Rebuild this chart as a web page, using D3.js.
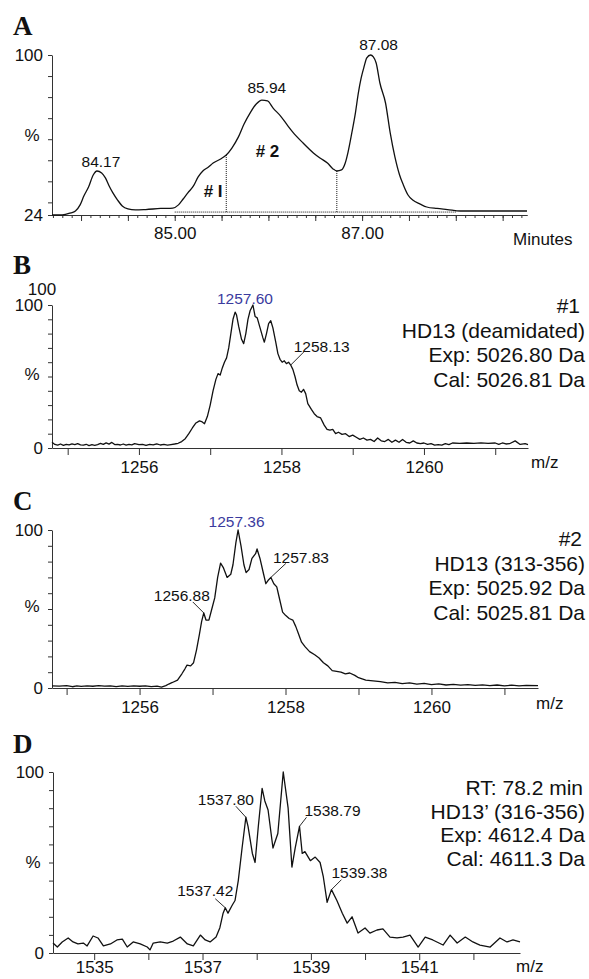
<!DOCTYPE html>
<html>
  <head>
    <title>HD13 chromatogram and mass spectra</title>
    <style>
      body { margin: 0; background: #fff; }
      #svg { display: block; font-family: 'Liberation Sans', Arial, sans-serif; }
    </style>
  </head>
  <body>
    <svg id="svg" width="589" height="979"></svg>
    <script src="https://cdn.jsdelivr.net/npm/d3@7"></script>
    <script>
      // ---- data ----
      // A: chromatogram, [minutes, %]
      const chromA = [[83.69,24.0],[83.80,24.0],[83.89,25.0],[83.94,25.9],[83.99,28.8],[84.03,33.0],[84.08,37.3],[84.13,43.0],[84.17,44.9],[84.22,44.0],[84.26,41.6],[84.30,37.8],[84.34,34.5],[84.39,31.1],[84.44,28.3],[84.50,26.9],[84.58,26.4],[84.69,26.6],[84.85,27.1],[84.98,27.3],[85.04,28.8],[85.09,31.6],[85.14,34.5],[85.20,37.8],[85.25,42.1],[85.30,44.9],[85.36,46.8],[85.41,48.7],[85.49,50.6],[85.55,52.5],[85.61,55.8],[85.68,61.1],[85.74,67.2],[85.81,72.9],[85.87,76.7],[85.93,78.6],[85.99,78.2],[86.05,74.8],[86.13,71.0],[86.20,66.8],[86.26,63.4],[86.37,58.2],[86.48,53.5],[86.55,51.1],[86.63,48.7],[86.69,45.9],[86.73,44.9],[86.78,45.4],[86.82,48.7],[86.85,53.9],[86.89,63.0],[86.93,72.9],[86.96,82.0],[86.99,89.1],[87.02,94.3],[87.05,98.6],[87.09,100],[87.12,99.1],[87.15,96.2],[87.19,86.7],[87.25,77.2],[87.30,63.0],[87.35,51.6],[87.40,43.0],[87.44,38.3],[87.49,33.5],[87.54,31.1],[87.62,29.2],[87.69,27.8],[87.80,27.1],[87.91,26.6],[88.05,25.9],[88.26,25.9],[88.76,25.9]];
      const peaksA = [['84.17', 84.17, 44.9], ['85.94', 85.93, 78.6], ['87.08', 87.09, 100]];
      const cutsA = [85.55, 86.73];          // dotted split lines
      const baselineA = [85.0, 88.0, 25.4];  // dotted integration baseline (from, to, level)
      const regionsA = ['# I', '# 2'];

      // B: spectrum of #1, [m/z, %]
      const specB = [[1254.78,4],[1254.82,2.5],[1254.86,2],[1254.90,2.8],[1254.94,1.8],[1254.98,2.5],[1255.02,2.2],[1255.06,2.9],[1255.10,2.4],[1255.14,3.1],[1255.18,2.2],[1255.22,2.0],[1255.26,2.6],[1255.30,1.7],[1255.34,2.3],[1255.38,1.9],[1255.42,2.4],[1255.46,3.2],[1255.50,2.5],[1255.54,3.6],[1255.58,2.7],[1255.62,3.9],[1255.66,2.4],[1255.70,2.6],[1255.74,2.1],[1255.78,2.8],[1255.82,2.0],[1255.86,2.5],[1255.90,2.2],[1255.94,3.0],[1256.00,2.3],[1256.05,2.6],[1256.10,1.9],[1256.15,2.6],[1256.20,2.2],[1256.25,2.9],[1256.30,2.1],[1256.35,2.5],[1256.40,2.0],[1256.45,2.4],[1256.50,2.8],[1256.55,3.3],[1256.60,4.5],[1256.65,6.5],[1256.70,10],[1256.75,14],[1256.80,17.5],[1256.85,19],[1256.88,18.5],[1256.92,17],[1256.96,22],[1257.00,30],[1257.04,40],[1257.08,48],[1257.11,52],[1257.14,51],[1257.17,56],[1257.20,60],[1257.23,63],[1257.26,70],[1257.29,80],[1257.32,90],[1257.35,95],[1257.37,93],[1257.40,85],[1257.44,76],[1257.47,73],[1257.50,80],[1257.53,90],[1257.56,96],[1257.60,100],[1257.63,92],[1257.66,91],[1257.70,84],[1257.74,77],[1257.76,74],[1257.79,80],[1257.82,87],[1257.85,89],[1257.88,84],[1257.92,74],[1257.95,66],[1257.98,62],[1258.01,60],[1258.04,61],[1258.07,59],[1258.10,60],[1258.13,58],[1258.16,55],[1258.19,50],[1258.22,44],[1258.25,40],[1258.28,39],[1258.31,41],[1258.34,38],[1258.37,31],[1258.42,27],[1258.46,24],[1258.50,22],[1258.55,21],[1258.60,16],[1258.64,13],[1258.68,12.5],[1258.72,13],[1258.76,10],[1258.80,11],[1258.85,9.5],[1258.90,10],[1258.95,8],[1259.00,9],[1259.05,7.5],[1259.10,6],[1259.15,7],[1259.20,5.5],[1259.25,6],[1259.30,4.5],[1259.35,7],[1259.40,5],[1259.45,4.5],[1259.50,6],[1259.55,4.0],[1259.60,5.5],[1259.65,4],[1259.70,6],[1259.75,4],[1259.80,3.5],[1259.85,5],[1259.90,3.5],[1259.95,3],[1260.00,3.5],[1260.05,2.5],[1260.10,3],[1260.15,2],[1260.20,2.3],[1260.25,2],[1260.30,3],[1260.35,2.4],[1260.40,3.5],[1260.50,3.2],[1260.60,3.5],[1260.70,3.3],[1260.80,3.6],[1260.90,3.2],[1261.00,3.5],[1261.05,2.5],[1261.10,3.5],[1261.15,2.8],[1261.20,3.0],[1261.28,5],[1261.35,2.5],[1261.42,3.0],[1261.46,2.4]];
      const peaksB = [['1257.60', 1257.60, 100], ['1258.13', 1258.13, 58]];
      const infoB = ['#1', 'HD13 (deamidated)', 'Exp: 5026.80 Da', 'Cal: 5026.81 Da'];

      // C: spectrum of #2
      const specC = [[1254.80,1.4],[1254.90,1.2],[1255.00,1.5],[1255.08,0.8],[1255.14,1.3],[1255.20,1.0],[1255.28,1.4],[1255.36,1.1],[1255.44,1.5],[1255.52,1.2],[1255.60,1.3],[1255.68,0.9],[1255.76,1.4],[1255.84,1.0],[1255.92,1.3],[1256.00,1.1],[1256.08,1.4],[1256.16,0.9],[1256.24,1.2],[1256.30,0.6],[1256.36,1.5],[1256.40,2.5],[1256.45,3.5],[1256.52,5],[1256.58,9],[1256.62,12],[1256.65,14.5],[1256.70,14],[1256.74,16],[1256.78,24],[1256.82,34],[1256.85,42],[1256.88,47.5],[1256.91,43],[1256.95,43],[1256.99,50],[1257.03,57],[1257.07,70],[1257.11,79],[1257.15,76],[1257.20,70],[1257.25,72],[1257.28,78],[1257.32,92],[1257.35,100],[1257.39,90],[1257.43,78],[1257.46,73],[1257.50,75],[1257.54,82],[1257.59,85],[1257.61,88],[1257.65,82],[1257.70,72],[1257.73,66],[1257.76,68],[1257.80,70],[1257.84,66],[1257.88,64],[1257.92,56],[1257.96,48],[1258.00,46],[1258.05,44],[1258.10,43],[1258.14,39],[1258.18,34],[1258.22,29],[1258.27,26],[1258.33,23],[1258.40,21],[1258.46,19],[1258.52,16],[1258.58,14],[1258.64,11],[1258.70,10.5],[1258.76,10],[1258.82,9],[1258.88,9.5],[1258.95,8],[1259.00,6.5],[1259.10,5],[1259.20,4.5],[1259.30,4],[1259.40,3.2],[1259.50,3.6],[1259.60,2.8],[1259.70,3.2],[1259.80,2.5],[1259.90,2.9],[1260.00,2.2],[1260.10,2.6],[1260.20,1.9],[1260.30,2.3],[1260.40,1.8],[1260.50,2.1],[1260.60,1.6],[1260.70,2.0],[1260.80,1.5],[1260.90,1.9],[1261.00,1.4],[1261.10,1.8],[1261.20,1.3],[1261.30,1.7],[1261.46,1.5]];
      const peaksC = [['1257.36', 1257.35, 100], ['1256.88', 1256.88, 47.5], ['1257.83', 1257.80, 70]];
      const infoC = ['#2', 'HD13 (313-356)', 'Exp: 5025.92 Da', 'Cal: 5025.81 Da'];

      // D: spectrum at RT 78.2 min
      const specD = [[1534.24,5.5],[1534.32,3.3],[1534.41,6.1],[1534.52,8.3],[1534.61,6.1],[1534.70,5.0],[1534.80,5.5],[1534.87,3.9],[1534.98,9.4],[1535.07,8.3],[1535.17,3.9],[1535.30,5.0],[1535.42,7.2],[1535.52,7.7],[1535.61,3.3],[1535.72,6.1],[1535.85,5.0],[1535.98,3.3],[1536.03,1.7],[1536.09,5.5],[1536.22,6.1],[1536.35,5.5],[1536.46,6.6],[1536.59,8.8],[1536.72,5.0],[1536.83,3.9],[1536.96,9.9],[1537.05,7.2],[1537.14,6.1],[1537.25,8.8],[1537.32,14],[1537.38,22],[1537.42,25],[1537.47,22],[1537.55,26.5],[1537.60,29],[1537.66,40],[1537.73,58],[1537.80,75],[1537.84,70],[1537.92,55],[1537.97,50],[1538.03,70],[1538.10,91],[1538.15,84],[1538.21,79],[1538.30,58],[1538.39,66],[1538.49,100],[1538.58,80],[1538.65,47.5],[1538.71,58],[1538.79,70],[1538.84,55],[1538.89,56],[1538.99,51],[1539.08,53],[1539.17,50],[1539.23,42],[1539.30,28],[1539.38,35],[1539.48,29],[1539.58,22],[1539.67,16.5],[1539.76,20],[1539.87,11],[1540.00,13.8],[1540.09,11],[1540.22,12.7],[1540.33,13.3],[1540.46,8.8],[1540.59,8.3],[1540.70,8.8],[1540.83,9.9],[1540.98,3.3],[1541.11,8.8],[1541.25,7.2],[1541.44,4.4],[1541.57,9.9],[1541.70,5.5],[1541.85,8.8],[1541.99,6.1],[1542.12,4.4],[1542.31,3.3],[1542.49,8.3],[1542.62,6.1],[1542.73,7.2],[1542.86,6.1]];
      const peaksD = [['1537.80', 1537.80, 75], ['1537.42', 1537.42, 25], ['1538.79', 1538.79, 70], ['1539.38', 1539.38, 35]];
      const infoD = ['RT: 78.2 min', 'HD13\u2019 (316-356)', 'Exp: 4612.4 Da', 'Cal: 4611.3 Da'];

      // ---- layout ----
      const svg = d3.select('#svg');
      const ink = '#111';
      const blue = '#3b3b9e';
      const fontTick = 17;

      function styleAxis(g) {
        g.attr('font-size', fontTick).attr('font-family', null).attr('fill', ink);
        g.selectAll('path, line').attr('stroke', '#333');
        g.selectAll('text').attr('fill', ink);
      }

      function panel(o) {
        const x = d3.scaleLinear().domain(o.xDomain).range([o.left, o.right]);
        const y = d3.scaleLinear().domain(o.yDomain).range([o.bottom, o.top]);
        const g = svg.append('g');

        // left axis
        g.append('g')
          .attr('transform', `translate(${o.left},0)`)
          .call(d3.axisLeft(y).tickValues(o.yTicks).tickSize(4).tickSizeOuter(0).tickPadding(5)
            .tickFormat((d) => (o.yLabels.includes(d) ? d : '')))
          .call(styleAxis);
        g.append('text').attr('x', o.left - 20).attr('y', y(o.pctAt)).attr('dy', '0.35em')
          .attr('text-anchor', 'middle').attr('font-size', fontTick).attr('fill', ink).text('%');

        // bottom axes
        if (o.xMinor) {
          g.append('g')
            .attr('transform', `translate(0,${o.bottom})`)
            .call(d3.axisBottom(x).tickValues(o.xMinor).tickSize(3).tickSizeOuter(0).tickFormat(''))
            .call(styleAxis);
        }
        g.append('g')
          .attr('transform', `translate(0,${o.bottom})`)
          .call(d3.axisBottom(x).tickValues(o.xTicks).tickSize(o.xTickSize).tickSizeOuter(0)
            .tickPadding(o.xPad === undefined ? 6 : o.xPad)
            .tickFormat((d) => (o.xLabels.includes(d) ? o.xFormat(d) : '')))
          .call(styleAxis);
        g.append('text').attr('x', o.unitX).attr('y', o.bottom + o.unitDy)
          .attr('font-size', fontTick).attr('fill', ink).text(o.unit);

        // trace
        const line = d3.line().x((d) => x(d[0])).y((d) => y(d[1])).curve(o.curve || d3.curveLinear);
        g.append('path').attr('d', line(o.data)).attr('fill', 'none')
          .attr('stroke', ink).attr('stroke-width', 1.3).attr('stroke-linejoin', 'round');

        // peak labels
        o.peaks.forEach((p, i) => {
          const s = o.peakStyle[i];
          const px = x(p[1]), py = y(p[2]);
          if (s.leader) {
            g.append('line').attr('x1', px).attr('y1', py)
              .attr('x2', px + s.leader[0]).attr('y2', py + s.leader[1])
              .attr('stroke', ink).attr('stroke-width', 0.9);
          }
          g.append('text').attr('x', px + s.dx).attr('y', py + s.dy)
            .attr('text-anchor', s.anchor).attr('font-size', o.peakFont)
            .attr('fill', s.color || ink).text(p[0]);
        });

        // label block on the right
        if (o.info) {
          o.info.forEach((t, i) => {
            g.append('text').attr('x', i === 0 ? o.infoX - o.firstInset : o.infoX)
              .attr('y', o.infoY + i * o.infoStep)
              .attr('text-anchor', 'end').attr('font-size', 21).attr('fill', ink).text(t);
          });
        }

        // panel letter
        svg.append('text').attr('x', 13).attr('y', o.letterY)
          .attr('font-family', "'Liberation Serif', 'Times New Roman', serif")
          .attr('font-weight', 'bold').attr('font-size', 27).attr('fill', ink).text(o.letter);

        return { g, x, y };
      }

      const tens = d3.range(0, 101, 10);

      // ---- A ----
      const A = panel({
        letter: 'A', letterY: 35,
        left: 52, right: 527, top: 55, bottom: 215,
        xDomain: [83.69, 88.76], yDomain: [24, 100],
        yTicks: [24].concat(d3.range(30, 101, 10)), yLabels: [24, 100], pctAt: 62,
        xMinor: d3.range(837, 888).map((d) => d / 10),
        xTicks: d3.range(168, 178).map((d) => d / 2), xTickSize: 6,
        xLabels: [85, 87], xFormat: d3.format('.2f'),
        unit: 'Minutes', unitX: 513, unitDy: 30,
        data: chromA, curve: d3.curveMonotoneX,
        peaks: peaksA, peakFont: 15.5,
        peakStyle: [
          { dx: 4, dy: -4, anchor: 'middle' },
          { dx: 5, dy: -7, anchor: 'middle' },
          { dx: 8, dy: -5, anchor: 'middle' },
        ],
      });

      // integration marks on A
      const dotted = { stroke: ink, 'stroke-width': 1, 'stroke-dasharray': '1,1' };
      const interpA = (t) => {
        const i = d3.bisector((d) => d[0]).left(chromA, t);
        const a = chromA[i - 1], b = chromA[i];
        return a[1] + (b[1] - a[1]) * (t - a[0]) / (b[0] - a[0]);
      };
      const hLine = A.g.append('line')
        .attr('x1', A.x(baselineA[0])).attr('x2', A.x(baselineA[1]))
        .attr('y1', A.y(baselineA[2])).attr('y2', A.y(baselineA[2]));
      Object.entries(dotted).forEach(([k, v]) => hLine.attr(k, v));
      cutsA.forEach((t) => {
        const l = A.g.append('line').attr('x1', A.x(t)).attr('x2', A.x(t))
          .attr('y1', A.y(baselineA[2])).attr('y2', A.y(interpA(t)));
        Object.entries(dotted).forEach(([k, v]) => l.attr(k, v));
      });
      const regionPos = [[85.41, 32.6], [85.99, 51.6]];
      regionsA.forEach((t, i) => {
        A.g.append('text').attr('x', A.x(regionPos[i][0])).attr('y', A.y(regionPos[i][1]))
          .attr('text-anchor', 'middle').attr('font-weight', 'bold').attr('font-size', 17)
          .attr('fill', ink).text(t);
      });

      // ---- B ----
      const B = panel({
        letter: 'B', letterY: 274,
        left: 52, right: 528, top: 305, bottom: 448,
        xDomain: [1254.78, 1261.46], yDomain: [0, 100],
        yTicks: tens, yLabels: [0, 100], pctAt: 52,
        xTicks: d3.range(1255, 1262), xTickSize: 7,
        xLabels: [1256, 1258, 1260], xFormat: (d) => d,
        unit: 'm/z', unitX: 531, unitDy: 20,
        data: specB,
        peaks: peaksB, peakFont: 15.5,
        peakStyle: [
          { dx: -8, dy: -1, anchor: 'middle', color: blue },
          { dx: 3, dy: -13, anchor: 'start', leader: [13, -13] },
        ],
        info: infoB, infoX: 585, infoY: 313, infoStep: 24.5, firstInset: 5,
      });
      // duplicated "100" above the axis, as in the original
      B.g.append('text').attr('x', 42).attr('y', 295).attr('text-anchor', 'middle')
        .attr('font-size', fontTick).attr('fill', ink).text('100');

      // ---- C ----
      panel({
        letter: 'C', letterY: 510,
        left: 52, right: 538, top: 530, bottom: 688,
        xDomain: [1254.80, 1261.46], yDomain: [0, 100],
        yTicks: tens, yLabels: [0, 100], pctAt: 52,
        xTicks: d3.range(1255, 1262), xTickSize: 7,
        xLabels: [1256, 1258, 1260], xFormat: (d) => d,
        unit: 'm/z', unitX: 536, unitDy: 21,
        data: specC,
        peaks: peaksC, peakFont: 15.5,
        peakStyle: [
          { dx: -1.5, dy: -3, anchor: 'middle', color: blue },
          { dx: -22, dy: -12, anchor: 'middle', leader: [-11, -11] },
          { dx: 2, dy: -14, anchor: 'start', leader: [15, -14] },
        ],
        info: infoC, infoX: 585, infoY: 546, infoStep: 24.5, firstInset: 3,
      });

      // ---- D ----
      panel({
        letter: 'D', letterY: 753,
        left: 53, right: 520, top: 772, bottom: 953,
        xDomain: [1534.24, 1542.86], yDomain: [0, 100],
        yTicks: tens, yLabels: [0, 100], pctAt: 50,
        xTicks: d3.range(1535, 1543), xTickSize: 7, xPad: 1,
        xLabels: [1535, 1537, 1539, 1541], xFormat: (d) => d,
        unit: 'm/z', unitX: 516, unitDy: 19,
        data: specD,
        peaks: peaksD, peakFont: 15.5,
        peakStyle: [
          { dx: -20, dy: -12, anchor: 'middle', leader: [-10, -11] },
          { dx: -20, dy: -12, anchor: 'middle', leader: [-10, -9] },
          { dx: 5, dy: -10, anchor: 'start', leader: [7, -9] },
          { dx: 0, dy: -12, anchor: 'start', leader: [10, -10] },
        ],
        info: infoD, infoX: 585, infoY: 795, infoStep: 23.7, firstInset: 2,
      });
    </script>
  </body>
</html>
